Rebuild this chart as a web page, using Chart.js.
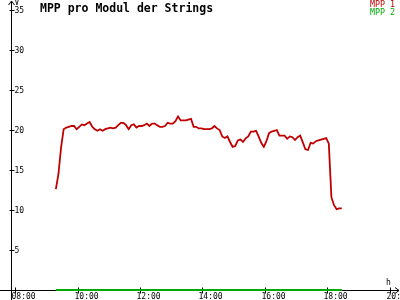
<!DOCTYPE html>
<html>
<head>
<meta charset="utf-8">
<script src="https://cdn.jsdelivr.net/npm/chart.js@4"></script>
<style>
  html, body { margin: 0; padding: 0; background: #fff; }
  #wrap { width: 400px; height: 300px; }
</style>
</head>
<body>
<div id="wrap"><canvas id="mppChart"></canvas></div>
<script>
const chartTitle = 'MPP pro Modul der Strings';
const seriesNames = ['MPP 1', 'MPP 2'];
const seriesColors = ['#c00000', '#00aa00'];
const yUnit = 'V';
const xUnit = 'h';

// MPP 1 sampled every 5 minutes starting 09:18
const mpp1Start = '09:18';
const stepMinutes = 5;
const mpp1 = [
  12.6, 14.5, 17.8, 20.1, 20.3, 20.4, 20.5, 20.5, 20.1, 20.4,
  20.7, 20.6, 20.8, 21.0, 20.4, 20.1, 19.9, 20.1, 19.9, 20.1,
  20.2, 20.3, 20.2, 20.3, 20.6, 20.9, 20.9, 20.6, 20.1, 20.6,
  20.7, 20.3, 20.5, 20.5, 20.6, 20.8, 20.5, 20.8, 20.8, 20.6,
  20.4, 20.4, 20.5, 20.9, 20.8, 20.8, 21.1, 21.7, 21.2, 21.2,
  21.2, 21.3, 21.4, 20.4, 20.4, 20.2, 20.2, 20.1, 20.1, 20.1,
  20.2, 20.5, 20.2, 20.0, 19.2, 19.0, 19.2, 18.5, 17.9, 18.0,
  18.7, 18.8, 18.5, 18.95, 19.2, 19.8, 19.8, 19.9, 19.2, 18.4,
  17.9, 18.6, 19.6, 19.8, 19.9, 20.0, 19.3, 19.3, 19.3, 18.9,
  19.2, 19.1, 18.75, 19.1, 19.3, 18.45, 17.6, 17.5, 18.4, 18.3,
  18.6, 18.7, 18.8, 18.9, 19.0, 18.3, 11.6, 10.6, 10.1, 10.2,
  10.2
];

// MPP 2 stays at zero for the whole day
const mpp2Times = ['09:18', '18:28'];
const mpp2 = [0, 0];

const xTicks = ['08:00', '10:00', '12:00', '14:00', '16:00', '18:00', '20:00'];
const yTicks = [5, 10, 15, 20, 25, 30, 35];

function toHours(s) {
  const parts = s.split(':');
  return +parts[0] + parts[1] / 60;
}

const mpp1Points = mpp1.map((v, i) => ({ x: toHours(mpp1Start) + i * stepMinutes / 60, y: v }));
const mpp2Points = mpp2.map((v, i) => ({ x: toHours(mpp2Times[i]), y: v }));

const MONO = '"DejaVu Sans Mono", "Liberation Mono", monospace';

const axesPlugin = {
  id: 'axesPlugin',
  beforeDatasetsDraw(chart) {
    const ctx = chart.ctx;
    const xs = chart.scales.x;
    const ys = chart.scales.y;
    const ax = Math.round(xs.left) + 0.5;
    const ay = Math.round(ys.getPixelForValue(0)) + 0.5;
    ctx.save();
    ctx.strokeStyle = '#000';
    ctx.fillStyle = '#000';
    ctx.lineWidth = 1;

    // axis lines
    ctx.beginPath();
    ctx.moveTo(ax, 1);
    ctx.lineTo(ax, chart.height);
    ctx.moveTo(0, ay);
    ctx.lineTo(chart.width - 1, ay);
    // arrows
    ctx.moveTo(ax - 3, 5);
    ctx.lineTo(ax, 1);
    ctx.lineTo(ax + 3, 5);
    ctx.moveTo(chart.width - 5, ay - 3);
    ctx.lineTo(chart.width - 1, ay);
    ctx.lineTo(chart.width - 5, ay + 3);
    ctx.stroke();

    ctx.font = '8px ' + MONO;
    // y ticks
    ctx.textAlign = 'left';
    ctx.textBaseline = 'middle';
    yTicks.forEach(t => {
      const py = Math.round(ys.getPixelForValue(t)) + 0.5;
      ctx.beginPath();
      ctx.moveTo(ax - 2, py);
      ctx.lineTo(ax + 3, py);
      ctx.stroke();
      ctx.fillText(String(t), ax + 3, py);
    });
    // x ticks
    ctx.textBaseline = 'top';
    xTicks.forEach(t => {
      const px = Math.round(xs.getPixelForValue(toHours(t))) + 0.5;
      ctx.beginPath();
      ctx.moveTo(px, ay - 3);
      ctx.lineTo(px, ay + 3);
      ctx.stroke();
      ctx.fillText(t, px - 4, ay + 2);
    });

    // units
    ctx.fillText(yUnit, ax + 3, -1);
    ctx.fillText(xUnit, chart.width - 14, ay - 12);

    // title
    ctx.font = 'bold 11.5px ' + MONO;
    ctx.fillText(chartTitle, 40, 3);

    // legend
    ctx.font = '8.3px ' + MONO;
    ctx.textAlign = 'right';
    seriesNames.forEach((name, i) => {
      ctx.fillStyle = seriesColors[i];
      ctx.fillText(name, 395, 1 + i * 8);
    });
    ctx.restore();
  }
};

new Chart(document.getElementById('mppChart'), {
  type: 'line',
  data: {
    datasets: [{
      label: seriesNames[0],
      data: mpp1Points,
      borderColor: seriesColors[0],
      borderWidth: 1.8,
      pointRadius: 0,
      tension: 0,
      clip: false
    },
    {
      label: seriesNames[1],
      data: mpp2Points,
      borderColor: seriesColors[1],
      borderWidth: 2,
      pointRadius: 0,
      tension: 0,
      clip: false
    }]
  },
  options: {
    responsive: true,
    maintainAspectRatio: false,
    animation: false,
    layout: {
      padding: { left: 11, right: 1, top: 10, bottom: 10 }
    },
    scales: {
      x: { type: 'linear', display: false, min: 7.862, max: 20.30 },
      y: { display: false, min: 0, max: 35 }
    },
    plugins: {
      legend: { display: false },
      tooltip: { enabled: false }
    }
  },
  plugins: [axesPlugin]
});
</script>
</body>
</html>
